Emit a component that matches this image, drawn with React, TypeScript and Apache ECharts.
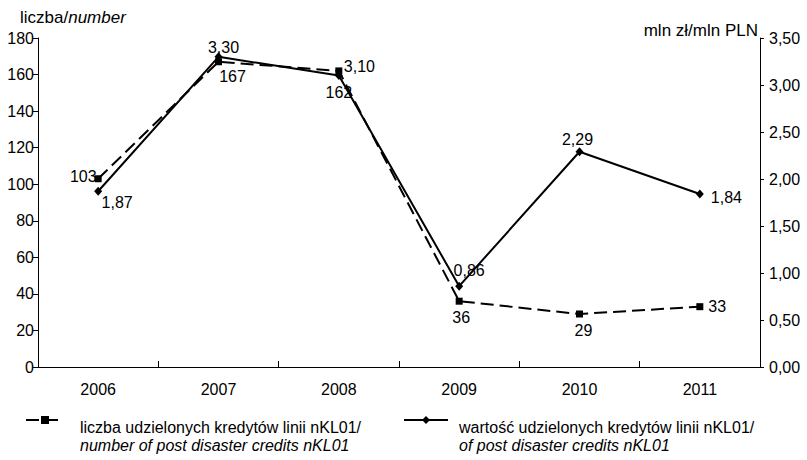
import React, { useEffect, useRef } from "react";
import * as echarts from "echarts";

const categories = ["2006", "2007", "2008", "2009", "2010", "2011"];
const countValues = [103, 167, 162, 36, 29, 33];
const amountValues = [1.87, 3.3, 3.1, 0.86, 2.29, 1.84];
const leftTicks = { min: 0, max: 180, interval: 20 };
const rightTicks = { min: 0, max: 3.5, interval: 0.5 };
const seriesNames = [
  "liczba udzielonych kredytów linii nKL01/",
  "wartość udzielonych kredytów linii nKL01/",
];
const seriesSubNames = [
  "number of post disaster credits nKL01",
  "of post disaster credits nKL01",
];

const FONT = "'Liberation Sans', Arial, sans-serif";
const fmtPl = (v: number) => v.toFixed(2).replace(".", ",");

// label placement per point (style only)
const countLabelPos: any[] = [
  { position: "left", offset: [7, -2] },
  { position: "bottom", offset: [14, -2] },
  { position: "bottom", offset: [0, 5] },
  { position: "bottom", offset: [2, 0] },
  { position: "bottom", offset: [4, 0] },
  { position: "right", offset: [0, 0] },
];
const amountLabelPos: any[] = [
  { position: "bottom", offset: [19, -6] },
  { position: "top", offset: [5, 8] },
  { position: "right", offset: [-4, -9] },
  { position: "top", offset: [10, 2] },
  { position: "top", offset: [-2, 5] },
  { position: "right", offset: [2, 3] },
];

export default function App() {
  const ref = useRef<HTMLDivElement>(null);
  useEffect(() => {
    if (!ref.current) return;
    const chart = echarts.init(ref.current, undefined, { renderer: "svg" });
    const labelBase = { show: true, color: "#000", fontSize: 16, fontFamily: FONT };
    const legendCommon = (i: number, left: number, itemWidth: number, padLeft: number) => ({
      data: [seriesNames[i]],
      left,
      top: 394,
      padding: 0,
      orient: "horizontal",
      itemWidth,
      itemHeight: 10,
      selectedMode: false,
      formatter: (name: string) => `{c| }\n{a|${name}}\n{b|${seriesSubNames[i]}}`,
      textStyle: {
        color: "#000",
        fontFamily: FONT,
        fontSize: 16,
        rich: {
          c: { fontSize: 16, fontFamily: FONT, lineHeight: 32 },
          a: { fontSize: 16, fontFamily: FONT, color: "#000", lineHeight: 18, padding: [0, 0, 0, padLeft] },
          b: { fontSize: 16, fontFamily: FONT, color: "#000", lineHeight: 18, fontStyle: "italic", padding: [0, 0, 0, padLeft] },
        },
      },
    });
    chart.setOption({
      animation: false,
      backgroundColor: "#fff",
      textStyle: { fontFamily: FONT },
      grid: { left: 38, right: 47, top: 38, bottom: 93, containLabel: false },
      legend: [legendCommon(0, 25, 38, 11), legendCommon(1, 403, 44, 6)],
      graphic: [
        {
          type: "text",
          left: 20,
          top: 9,
          style: {
            text: "{a|liczba/}{b|number}",
            rich: {
              a: { fontSize: 17, fontFamily: FONT, fill: "#000" },
              b: { fontSize: 17, fontFamily: FONT, fill: "#000", fontStyle: "italic" },
            },
          },
        },
        {
          type: "text",
          right: 49,
          top: 22,
          style: { text: "mln zł/mln PLN", fontSize: 17, fontFamily: FONT, fill: "#000" },
        },
      ],
      xAxis: {
        type: "category",
        data: categories,
        boundaryGap: true,
        axisLine: { lineStyle: { color: "#000", width: 1 } },
        axisTick: { show: true, inside: true, length: 6, lineStyle: { color: "#000" } },
        axisLabel: { color: "#000", fontSize: 16, fontFamily: FONT, margin: 14 },
        splitLine: { show: false },
      },
      yAxis: [
        {
          type: "value",
          min: leftTicks.min,
          max: leftTicks.max,
          interval: leftTicks.interval,
          axisLine: { show: true, lineStyle: { color: "#000", width: 1 } },
          axisTick: { show: true, length: 5, lineStyle: { color: "#000" } },
          axisLabel: { color: "#000", fontSize: 16, fontFamily: FONT, margin: 4 },
          splitLine: { show: false },
        },
        {
          type: "value",
          position: "right",
          min: rightTicks.min,
          max: rightTicks.max,
          interval: rightTicks.interval,
          axisLine: { show: true, lineStyle: { color: "#000", width: 1 } },
          axisTick: { show: true, length: 4, lineStyle: { color: "#000" } },
          axisLabel: { color: "#000", fontSize: 16, fontFamily: FONT, margin: 9, formatter: (v: number) => fmtPl(v) },
          splitLine: { show: false },
        },
      ],
      series: [
        {
          name: seriesNames[0],
          type: "line",
          yAxisIndex: 0,
          symbol: "rect",
          symbolSize: 7,
          itemStyle: { color: "#000" },
          lineStyle: { color: "#000", width: 2, type: [13, 6] },
          data: countValues.map((v, i) => ({
            value: v,
            label: { ...labelBase, ...countLabelPos[i] },
          })),
          label: { ...labelBase },
          z: 2,
        },
        {
          name: seriesNames[1],
          type: "line",
          yAxisIndex: 1,
          symbol: "diamond",
          symbolSize: [8, 9],
          itemStyle: { color: "#000" },
          lineStyle: { color: "#000", width: 2 },
          data: amountValues.map((v, i) => ({
            value: v,
            label: { ...labelBase, ...amountLabelPos[i], formatter: () => fmtPl(v) },
          })),
          label: { ...labelBase },
          z: 3,
        },
      ],
    });
    return () => chart.dispose();
  }, []);
  return (
    <div
      ref={ref}
      style={{ position: "fixed", left: 0, top: 0, width: 807, height: 460, background: "#fff" }}
    />
  );
}
